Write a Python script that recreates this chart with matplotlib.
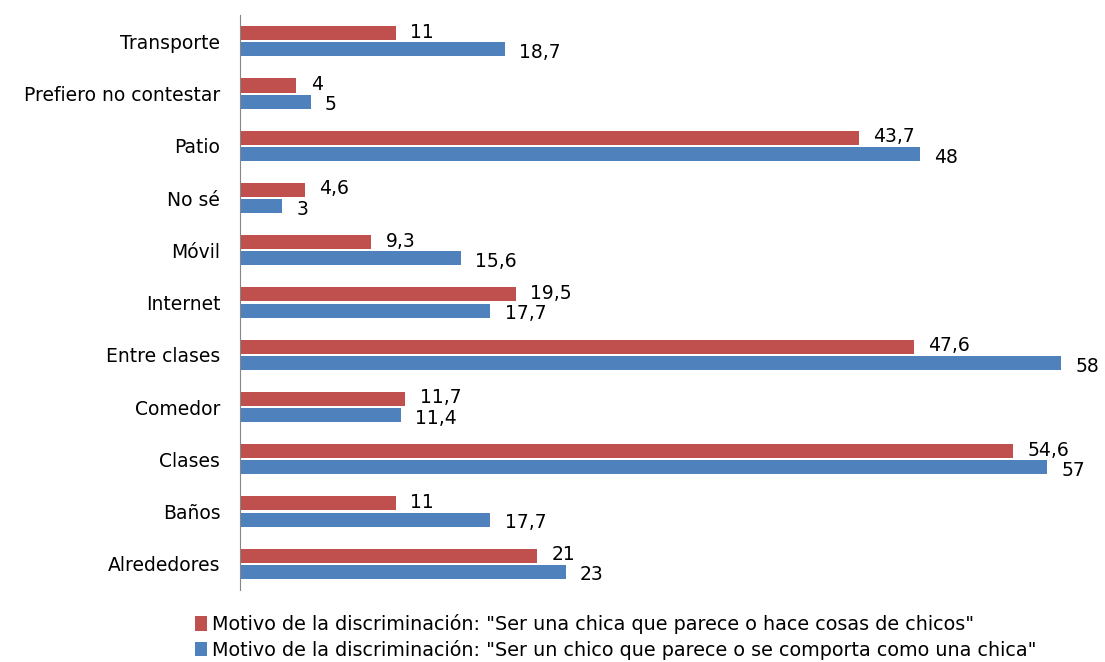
import numpy as np
import matplotlib.pyplot as plt

plt.rcParams['font.family'] = ['DejaVu Sans']

categories = ["Transporte", "Prefiero no contestar", "Patio", "No sé", "Móvil",
              "Internet", "Entre clases", "Comedor", "Clases", "Baños", "Alrededores"]
chica = [11, 4, 43.7, 4.6, 9.3, 19.5, 47.6, 11.7, 54.6, 11, 21]
chico = [18.7, 5, 48, 3, 15.6, 17.7, 58, 11.4, 57, 17.7, 23]
label_chica = 'Motivo de la discriminación: "Ser una chica que parece o hace cosas de chicos"'
label_chico = 'Motivo de la discriminación: "Ser un chico que parece o se comporta como una chica"'

red = "#C0504D"
blue = "#4F81BD"

fig = plt.figure(figsize=(11.05, 6.62), dpi=100)
ax = fig.add_axes([0.217, 0.109, 0.769, 0.868])

y = np.arange(len(categories))
h = 0.27
b1 = ax.barh(y - h / 2 - 0.02, chica, height=h, color=red, label=label_chica)
b2 = ax.barh(y + h / 2 + 0.02, chico, height=h, color=blue, label=label_chico)

def fmt(v):
    return f"{v:g}".replace(".", ",")

for yi, v in zip(y, chica):
    ax.text(v + 1.0, yi - h / 2 - 0.04, fmt(v), va="center", ha="left", fontsize=13.5)
for yi, v in zip(y, chico):
    ax.text(v + 1.0, yi + h / 2 + 0.08, fmt(v), va="center", ha="left", fontsize=13.5)

ax.set_yticks(y)
ax.set_yticklabels(categories, fontsize=13.5)
ax.set_ylim(len(categories) - 0.5, -0.5)
ax.set_xlim(0, 60)
ax.set_xticks([])
ax.tick_params(axis="y", length=0, pad=14)
for s in ["top", "right", "bottom"]:
    ax.spines[s].set_visible(False)
ax.spines["left"].set_color("#868686")

fig.legend(handles=[b1, b2], loc="upper left", bbox_to_anchor=(0.168, 0.087),
           frameon=False, fontsize=13.8, handlelength=0.6, handleheight=0.8,
           handletextpad=0.25, labelspacing=0.3, borderpad=0)

fig.savefig("out.png", dpi=100)
